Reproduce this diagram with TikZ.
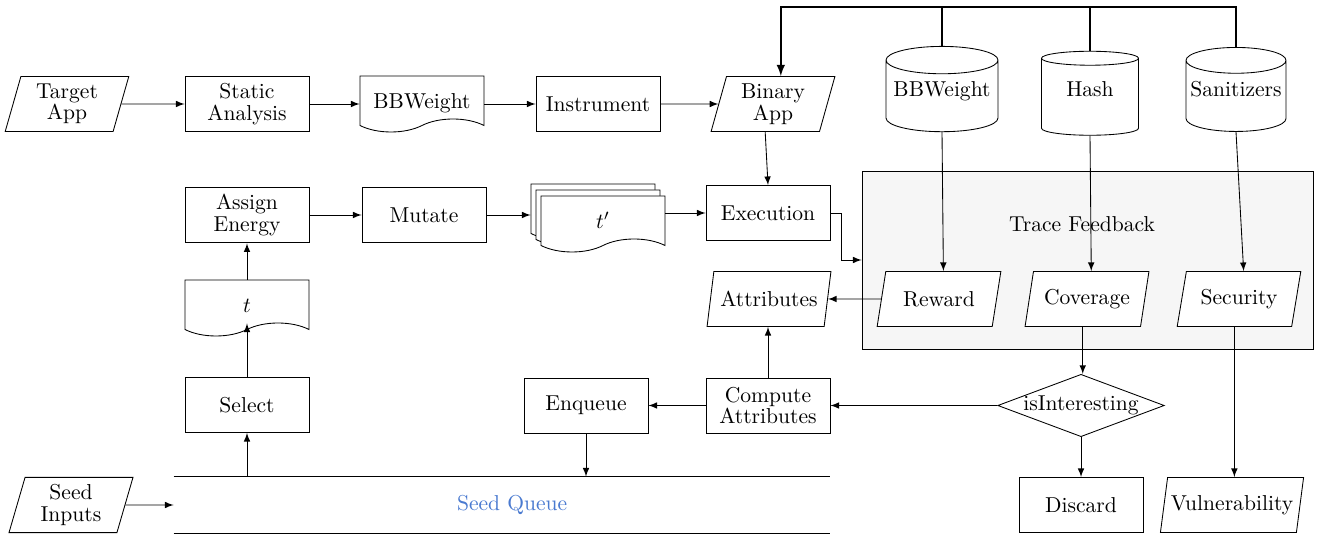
\documentclass[tikz,border=0pt]{standalone}
\usepackage{amsmath}
\usepackage{tikz}
\usetikzlibrary{shapes, arrows, positioning}

\newcommand{\pu}{0.0163cm}
\definecolor{queueblue}{RGB}{74,122,208}

\tikzset{
  block/.style = {draw, rectangle, minimum width=124*\pu, minimum height=55*\pu, align=center},
  io/.style = {draw, fill=white, trapezium, trapezium left angle=78, trapezium right angle=102,
    trapezium stretches=true, minimum width=124*\pu, minimum height=55*\pu,
    inner xsep=1.5pt, align=center},
  doc/.style = {draw, fill=white, tape, tape bend top=none, tape bend bottom=in and out,
    tape bend height=13*\pu, minimum width=124*\pu, minimum height=56*\pu,
    inner ysep=1pt, text height=12pt, text depth=2pt},
  store/.style = {draw, cylinder, shape border rotate=90, shape aspect=0.27,
    minimum height=84*\pu, inner xsep=1pt, text height=7pt, text depth=8.4pt},
  decide/.style = {draw, diamond, aspect=2.67, inner sep=0pt},
}

\begin{document}
\begin{tikzpicture}[x=\pu, y=-\pu, >=latex, font=\linespread{0.83}\selectfont]
  \useasboundingbox (0,0) rectangle (1317,534);
  \coordinate (bus) at (0,7);

  % feedback box goes first so it stays behind
  \node [draw, fill=gray!7, minimum width=451*\pu, minimum height=178*\pu] (trace) at (1087.5,260) {};
  \node (tracelbl) at (1082,224) {Trace Feedback};

  % build
  \node [io] (target) at (67,104) {Target\\App};
  \node [block] (static) at (247,104) {Static\\Analysis};
  \node [doc] (bbw) at (422,97.5) {BBWeight};
  \node [block] (instr) at (598,104) {Instrument};
  \node [io] (binapp) at (773,104) {Binary\\App};

  \node [store, minimum width=112*\pu] (bbwdb) at (942,98) {BBWeight};
  \node [store, minimum width=97*\pu] (hashdb) at (1090,98) {Hash};
  \node [store, minimum width=100*\pu] (sandb) at (1236,98) {Sanitizers};

  % fuzz loop
  \node [block] (energy) at (247,215) {Assign\\Energy};
  \node [block] (mutate) at (424,215) {Mutate};
  \node [doc] (tback) at (593,205.5) {};
  \node [doc] (tmid) at (598,211.5) {};
  \node [doc] (tfront) at (603,217.5) {$t'$};
  \node [block] (exec) at (768,213) {Execution};

  \node [doc] (tdoc) at (247,301.5) {$t$};
  \node [io] (attr) at (769,299) {Attributes};
  \node [io] (reward) at (939,299) {Reward};
  \node [io] (coverage) at (1087,299) {Coverage};
  \node [io] (security) at (1239,299) {Security};

  \node [block] (select) at (247,405) {Select};
  \node [block] (enqueue) at (586,405.5) {Enqueue};
  \node [block] (compattr) at (768,405.5) {Compute\\Attributes};
  \node [decide] (interesting) at (1081,405.5) {isInteresting};

  \node [io] (seedin) at (71,505) {Seed\\Inputs};
  \node [text=queueblue, minimum width=656*\pu, minimum height=56*\pu] (queue) at (502,505) {\hspace*{0.33cm}Seed Queue};
  \node [block] (discard) at (1081,505) {Discard};
  \node [io] (vuln) at (1232,505) {Vulnerability};

  \draw (queue.north west) -- (queue.north east);
  \draw (queue.south west) -- (queue.south east);

  \draw [->] (target) -- (static);
  \draw [->] (static) -- (bbw.west |- static);
  \draw [->] (bbw.east |- instr) -- (instr);
  \draw [->] (instr) -- (binapp);

  \draw [thick, ->] (sandb.north) -- (sandb.north |- bus) -- (binapp.top side |- bus) -- (binapp.top side);
  \draw [thick] (bbwdb.north) -- (bbwdb.north |- bus);
  \draw [thick] (hashdb.north) -- (hashdb.north |- bus);

  \draw [->] (bbwdb.south) -- (reward.top side);
  \draw [->] (hashdb.south) -- (coverage.top side);
  \draw [->] (sandb.south) -- (security.top side);

  \draw [->] (binapp.bottom side) -- (exec.north);
  \draw [->] (exec.east) -- ++(0.18cm,0) |- (trace.west);
  \draw [->] (energy) -- (mutate);
  \draw [->] (mutate.east) -- (mutate.east -| tback.west);
  \draw [->] (exec.west -| tfront.east) -- (exec.west);
  \draw [->] (tdoc.north) -- (energy.south);
  \draw [->] (select.north) -- (tdoc.south);
  \draw [->] (select.south |- queue.north) -- (select.south);
  \draw [->] (seedin.east) -- (queue.west);

  \draw [->] (reward.west) -- (attr.east);
  \draw [->] (compattr.north) -- (compattr.north |- attr.bottom side);
  \draw [->] (coverage.bottom side) -- (coverage.bottom side |- interesting.north);
  \draw [->] (interesting.west) -- (compattr.east);
  \draw [->] (compattr.west) -- (enqueue.east);
  \draw [->] (enqueue.south) -- (enqueue.south |- queue.north);
  \draw [->] (interesting.south) -- (discard.north);
  \draw [->] (security.bottom side) -- (security.bottom side |- vuln.north);
\end{tikzpicture}
\end{document}
